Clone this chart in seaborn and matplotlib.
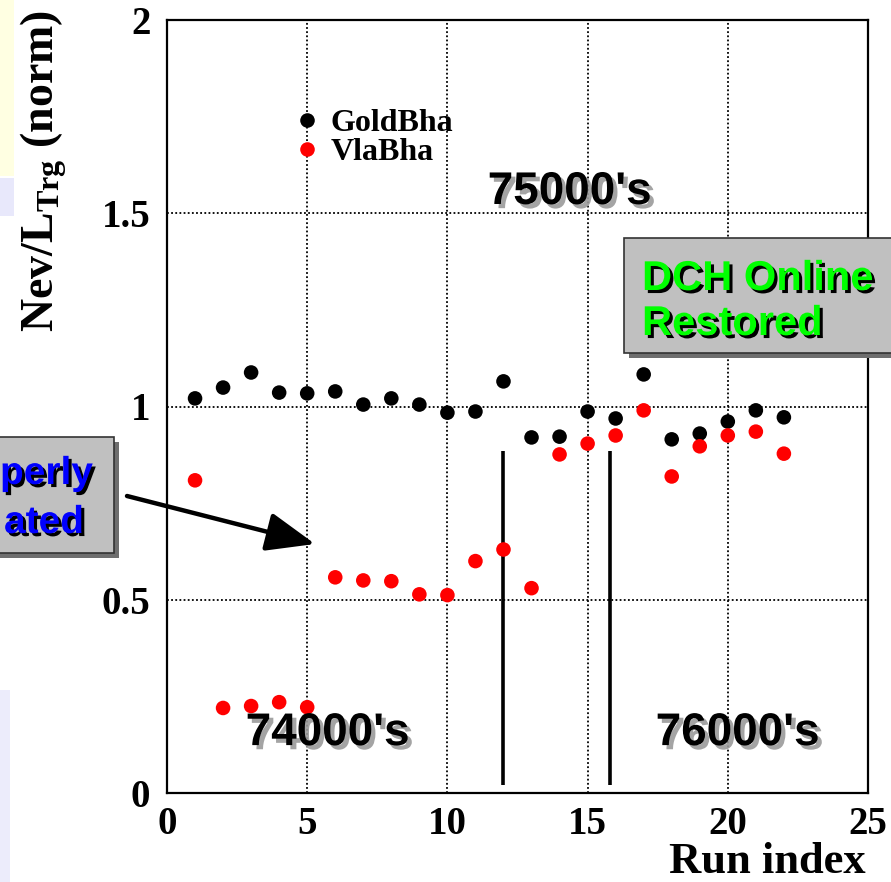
import matplotlib
matplotlib.use("Agg")
import numpy as np
import pandas as pd
import seaborn as sns
import matplotlib.pyplot as plt
from matplotlib import patheffects as pe
from matplotlib.patches import Rectangle, FancyArrowPatch
from matplotlib.ticker import MultipleLocator, FuncFormatter

# Normalised Bhabha yields per run
run_index = list(range(1, 23))
gold_bha = [1.021, 1.049, 1.088, 1.036, 1.034, 1.039, 1.005, 1.021, 1.005, 0.984, 0.987,
            1.065, 0.920, 0.922, 0.987, 0.969, 1.083, 0.915, 0.930, 0.961, 0.990, 0.972]
vla_bha = [0.809, 0.220, 0.225, 0.235, 0.222, 0.558, 0.550, 0.548, 0.514, 0.512, 0.600,
           0.630, 0.530, 0.876, 0.904, 0.925, 0.990, 0.819, 0.897, 0.925, 0.935, 0.878]
series_names = ["GoldBha", "VlaBha"]
series_colors = ["black", "red"]
group_labels = ["74000's", "75000's", "76000's"]
group_x = [5.74, 14.37, 20.36]
group_y = [0.155, 1.555, 0.155]
divider_runs = [12.0, 15.8]
divider_top = 0.886

df = pd.DataFrame({
    "run": run_index * 2,
    "value": gold_bha + vla_bha,
    "series": [series_names[0]] * len(gold_bha) + [series_names[1]] * len(vla_bha),
})

sns.set_style("white")
plt.rcParams.update({
    "font.family": ["Liberation Serif", "DejaVu Serif"],
    "font.weight": "bold",
    "mathtext.fontset": "custom",
    "mathtext.rm": "Liberation Serif:bold",
    "mathtext.it": "Liberation Serif:bold",
    "mathtext.bf": "Liberation Serif:bold",
    "axes.linewidth": 1.6,
    "axes.edgecolor": "black",
    "text.color": "black",
    "axes.labelcolor": "black",
    "xtick.color": "black",
    "ytick.color": "black",
})

W, H = 891, 882
fig = plt.figure(figsize=(W / 100, H / 100), dpi=100)
fig.patch.set_facecolor("white")


def fx(px):
    return px / W


def fy(py):
    return 1 - py / H


# slide background strips on the left edge
for (x0, y0, x1, y1, c) in [(0, 0, 14, 176, "#ffffe2"), (0, 178, 14, 216, "#e8e8fb"),
                            (0, 690, 10, 882, "#ececfb")]:
    fig.add_artist(Rectangle((fx(x0), fy(y1)), fx(x1 - x0), (y1 - y0) / H,
                             transform=fig.transFigure, facecolor=c, edgecolor="none", zorder=0))

ax = fig.add_axes([fx(167), fy(793), (868 - 167) / W, (793 - 20) / H])
ax.set_facecolor("white")

sns.scatterplot(data=df, x="run", y="value", hue="series",
                palette=dict(zip(series_names, series_colors)),
                s=110, edgecolor="none", linewidth=0, ax=ax, zorder=5)

ax.set_xlim(0, 25)
ax.set_ylim(0, 2)
ax.xaxis.set_major_locator(MultipleLocator(5))
ax.xaxis.set_minor_locator(MultipleLocator(1))
ax.yaxis.set_major_locator(MultipleLocator(0.5))
ax.yaxis.set_minor_locator(MultipleLocator(0.1))
ax.xaxis.set_major_formatter(FuncFormatter(lambda v, p: f"{v:g}"))
ax.yaxis.set_major_formatter(FuncFormatter(lambda v, p: f"{v:g}"))
ax.tick_params(which="major", direction="in", length=10, width=1.5, labelsize=28,
               colors="black")
ax.tick_params(which="minor", direction="in", length=6, width=1.5, colors="black")
ax.tick_params(axis="y", which="major", pad=12)
ax.tick_params(axis="x", which="major", pad=9)
ax.grid(True, which="major", color="black", linestyle=(0, (1, 1.3)), linewidth=1.3)
for lab in ax.get_xticklabels() + ax.get_yticklabels():
    lab.set_fontweight("bold")

ax.set_xlabel("Run index", fontsize=32, fontweight="bold", loc="right", color="black")
ax.xaxis.set_label_coords(0.997, -0.064)
ax.set_ylabel(r"Nev/L$_{\mathrm{Trg}}$ (norm)", fontsize=33, fontweight="bold", loc="top",
              color="black")
ax.yaxis.set_label_coords(-0.140, 1.013)

ax.vlines(divider_runs, 0.02, divider_top, colors="black", linewidth=2.6, zorder=4)

handles, labels = ax.get_legend_handles_labels()
leg = ax.legend(handles, labels, loc="center left",
                bbox_to_anchor=(fx(299), fy(138)), bbox_transform=fig.transFigure,
                frameon=False, fontsize=23, handlelength=0.5, handletextpad=0.5,
                borderpad=0, borderaxespad=0, labelspacing=-0.02, markerscale=1.0)
for t in leg.get_texts():
    t.set_fontweight("bold")
    t.set_color("black")

shadow_gray = [pe.SimplePatchShadow(offset=(3, -3), shadow_rgbFace="#9a9a9a", alpha=0.9), pe.Normal()]
for lab, gx, gy in zip(group_labels, group_x, group_y):
    ax.text(gx, gy, lab, ha="center", va="center", fontsize=33, fontweight="bold",
            family=["Liberation Sans", "DejaVu Sans"], color="black",
            path_effects=shadow_gray, zorder=6)

# arrow pointing at the low VlaBha runs
fig.add_artist(FancyArrowPatch(
    (fx(127), fy(496)), (fx(315), fy(544)), transform=fig.transFigure,
    arrowstyle="-|>,head_length=1.5,head_width=0.6", mutation_scale=20,
    color="black", linewidth=3.2, shrinkA=0, shrinkB=0, zorder=7))


def note_box(x0, y0, x1, y1, lines, color, size):
    fig.add_artist(Rectangle((fx(x0 + 5), fy(y1 + 5)), (x1 - x0) / W, (y1 - y0) / H,
                             transform=fig.transFigure, facecolor="#6e6e6e",
                             edgecolor="none", zorder=8))
    fig.add_artist(Rectangle((fx(x0), fy(y1)), (x1 - x0) / W, (y1 - y0) / H,
                             transform=fig.transFigure, facecolor="#c0c0c0",
                             edgecolor="#333333", linewidth=1.2, zorder=9))
    shadow_black = [pe.SimplePatchShadow(offset=(2.2, -2.2), shadow_rgbFace="black", alpha=1.0),
                    pe.Normal()]
    for text, tx, ty, ha in lines:
        fig.text(fx(tx), fy(ty), text, ha=ha, va="baseline", fontsize=size, fontweight="bold",
                 family=["Liberation Sans", "DejaVu Sans"], color=color,
                 path_effects=shadow_black, zorder=10)


note_box(-10, 437, 114, 553, [("perly", 93, 484, "right"), ("ated", 84, 533, "right")],
         "#0000ff", 28)
note_box(624, 238, 905, 353, [("DCH Online", 642, 290, "left"), ("Restored", 642, 335, "left")],
         "#00ff00", 30)

fig.savefig("out.png", dpi=100, facecolor="white")
